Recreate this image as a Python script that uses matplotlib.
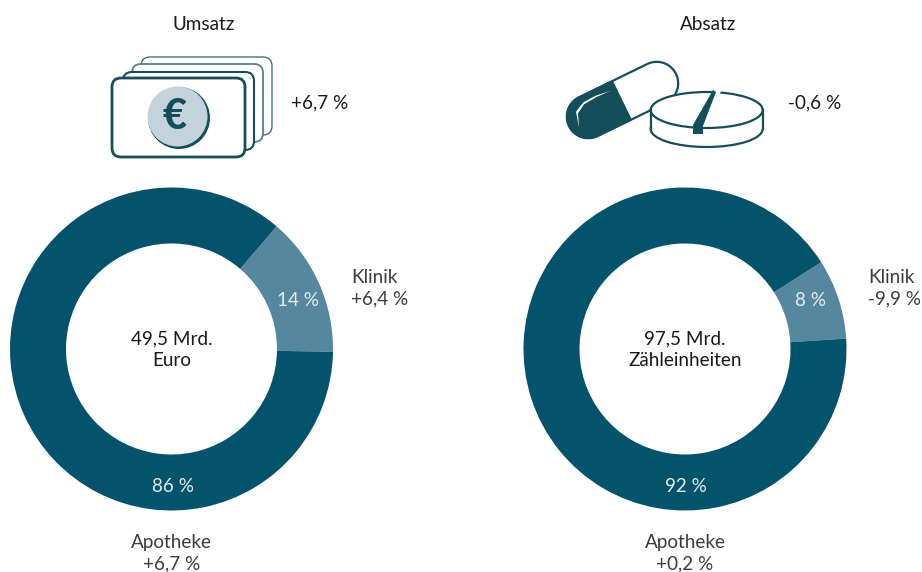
import matplotlib
matplotlib.use("Agg")
import matplotlib.pyplot as plt
import numpy as np
from matplotlib.patches import Circle, Ellipse, FancyBboxPatch, Polygon, Rectangle

titles = ["Umsatz", "Absatz"]
changes = ["+6,7 %", "-0,6 %"]
totals = ["49,5 Mrd.\nEuro", "97,5 Mrd.\nZähleinheiten"]
klinik_share = [14, 8]
apotheke_share = [86, 92]
klinik_change = ["Klinik\n+6,4 %", "Klinik\n-9,9 %"]
apotheke_change = ["Apotheke\n+6,7 %", "Apotheke\n+0,2 %"]

W, H = 922, 572
dark = "#02536B"
light = "#55889F"
icon = "#134E5A"
coin = "#C3D3DC"
text_col = "#1A1A1A"
grey = "#3C3C3C"

plt.rcParams["font.family"] = ["Lato", "DejaVu Sans"]

fig = plt.figure(figsize=(W / 100, H / 100), dpi=100)
ax = fig.add_axes([0, 0, 1, 1])


def py(y):
    return H - y


# donuts
centers = [171.5, 685]
starts = [-1, 3.7]
for i, cx in enumerate(centers):
    ax.pie([klinik_share[i], apotheke_share[i]], colors=[light, dark],
           center=(cx, py(349)), radius=161.5, startangle=starts[i],
           wedgeprops=dict(width=56, linewidth=0), frame=True)

ax.set_xlim(0, W)
ax.set_ylim(0, H)
ax.set_aspect("equal")
ax.axis("off")

fs = 13.6
ls = 1.33
for i, cx in enumerate(centers):
    ax.text(cx + (32 if i == 0 else 23), py(24.5), titles[i], ha="center", va="center", fontsize=fs, color=text_col)
    ax.text(cx, py(349.5), totals[i], ha="center", va="center", fontsize=fs, color=text_col, linespacing=ls)
    ax.text(cx + 1, py(486), f"{apotheke_share[i]} %", ha="center", va="center", fontsize=fs, color="#E4ECEF")
    ax.text(cx, py(553), apotheke_change[i], ha="center", va="center", fontsize=fs, color=grey, linespacing=ls)

ax.text(298, py(301), f"{klinik_share[0]} %", ha="center", va="center", fontsize=fs, color="#E4ECEF")
ax.text(810, py(301), f"{klinik_share[1]} %", ha="center", va="center", fontsize=fs, color="#E4ECEF")
ax.text(351, py(288.5), klinik_change[0], ha="left", va="center", fontsize=fs, color=grey, linespacing=ls)
ax.text(868, py(288.5), klinik_change[1], ha="left", va="center", fontsize=fs, color=grey, linespacing=ls)
ax.text(291, py(103), changes[0], ha="left", va="center", fontsize=fs, color=text_col)
ax.text(788, py(103), changes[1], ha="left", va="center", fontsize=fs, color=text_col)


# banknotes icon
def note(x0, y0, x1, y1, lw, col, z):
    r = 9
    p = FancyBboxPatch((x0 + r, py(y1) + r), x1 - x0 - 2 * r, y1 - y0 - 2 * r,
                       boxstyle=f"round,pad={r},rounding_size={r}",
                       fc="white", ec=col, lw=lw, zorder=z)
    ax.add_patch(p)


note(141, 57, 272, 135, 0.9, "#2F6470", 3)
note(132, 64, 263, 142, 1.4, "#5E8A94", 4)
note(123, 72, 254, 150, 1.5, icon, 5)
note(112, 78, 245, 157, 2.0, icon, 6)
ax.add_patch(Circle((179, py(118)), 31, fc=icon, ec="none", zorder=7))
ax.add_patch(Circle((177.5, py(116.5)), 30, fc=coin, ec="none", zorder=8))
ax.text(175, py(117), "€", ha="center", va="center", fontsize=30, fontweight="black", color=icon, zorder=9)


# pill icon
def z(x, y):
    # zoomed crop position to plot position
    return 560 + x / 3, py(55 + y / 3)


p0 = np.array(z(85, 185))
p1 = np.array(z(290, 85))
u = (p1 - p0) / np.linalg.norm(p1 - p0)
a0 = np.degrees(np.arctan2(u[1], u[0]))
r = 21.5
t1 = np.radians(np.linspace(a0 - 90, a0 + 90, 40))
t0 = np.radians(np.linspace(a0 + 90, a0 + 270, 40))
mid = p0 + u * 37
cap = np.vstack([p1 + r * np.c_[np.cos(t1), np.sin(t1)], p0 + r * np.c_[np.cos(t0), np.sin(t0)]])
ax.add_patch(Polygon(cap, closed=True, fc="white", ec=icon, lw=1.6, zorder=3))
n = np.array([-u[1], u[0]])
half = np.vstack([[mid + n * r], p0 + r * np.c_[np.cos(t0), np.sin(t0)], [mid - n * r]])
ax.add_patch(Polygon(half, closed=True, fc=icon, ec=icon, lw=1.2, zorder=4))
# highlight on the dark half
hx = [z(152, 107), z(105, 123), z(70, 142), z(48, 170), z(57, 218), z(54, 175), z(72, 148), z(110, 126)]
ax.add_patch(Polygon(hx, closed=True, fc="white", ec="none", zorder=5))

# tablet icon
cx, cy = z(440, 165)
bx, by = z(440, 222)
ax.add_patch(Rectangle((cx - 56, by), 112, cy - by, fc="white", ec="none", zorder=6))
ax.add_patch(Ellipse((bx, by), 112, 36, fc="white", ec=icon, lw=1.6, zorder=5))
ax.add_patch(Ellipse((cx, cy), 112, 36, fc="white", ec=icon, lw=1.6, zorder=7))
ax.plot([cx - 56, cx - 56], [cy, by], color=icon, lw=1.6, zorder=7)
ax.plot([cx + 56, cx + 56], [cy, by], color=icon, lw=1.6, zorder=7)
ax.add_patch(Polygon([(715, py(91)), (721, py(91)), (708, py(126)), (703, py(126))],
                     closed=True, fc="white", ec="none", zorder=8))
ax.add_patch(Polygon([(713, py(90)), (693, py(125)), (693, py(134)), (703, py(134)), (703, py(126)), (716, py(92))],
                     closed=True, fc=icon, ec="none", zorder=9))

fig.savefig("out.png", dpi=100, facecolor="white")
